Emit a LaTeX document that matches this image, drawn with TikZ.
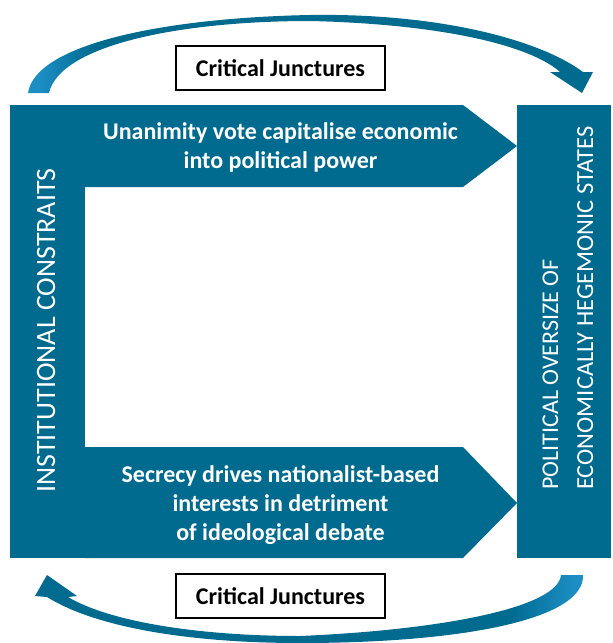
\documentclass[tikz,border=0pt]{standalone}
\usepackage{fontspec}
\setmainfont{Carlito}
\definecolor{mainblue}{RGB}{0,106,143}
\definecolor{lightblue}{RGB}{28,142,196}
\pgfdeclarehorizontalshading{topgrad}{100bp}{color(0bp)=(lightblue); color(26bp)=(lightblue); color(31bp)=(mainblue); color(100bp)=(mainblue)}
\pgfdeclarehorizontalshading{botgrad}{100bp}{color(0bp)=(mainblue); color(68bp)=(mainblue); color(74bp)=(lightblue); color(100bp)=(lightblue)}
\begin{document}
\begin{tikzpicture}[x=1pt,y=-1pt,
  blockfill/.style={fill=mainblue},
  boldtext/.style={text=white,font=\fontsize{24}{29}\selectfont\bfseries,align=center,inner sep=0pt},
  vtext/.style={text=white,rotate=90,inner sep=0pt,anchor=base west},
  cjbox/.style={draw=black,line width=1.2pt,fill=white,minimum width=209pt,minimum height=44pt,inner sep=0pt,font=\fontsize{24}{29}\selectfont\bfseries}]
\useasboundingbox (0,0) rectangle (613,643);

% blocks
\fill[blockfill] (10,105) rectangle (85,558);
\fill[blockfill] (85,105) -- (463,105) -- (517,146) -- (463,187) -- (85,187) -- cycle;
\fill[blockfill] (85,447) -- (463,447) -- (517,503) -- (463,558) -- (85,558) -- cycle;
\fill[blockfill] (517,105) rectangle (611,558);

% texts
\node[boldtext] (toptext) at (280.5,147.5) {Unanimity vote capitalise economic\\into political power};
\node[boldtext] (bottext) at (280.5,505) {Secrecy drives nationalist-based\\interests in detriment\\of ideological debate};
\node[vtext,anchor=base,font=\fontsize{28}{34}\selectfont] (lefttext) at (55,330.5) {INSTITUTIONAL CONSTRAITS};
\node[vtext,font=\fontsize{24}{30}\selectfont] (right1) at (558,490) {POLITICAL OVERSIZE OF};
\node[vtext,font=\fontsize{24.5}{30}\selectfont] (right2) at (593,490) {ECONOMICALLY HEGEMONIC STATES};

% critical junctures boxes
\node[cjbox] (cjtop) at (280.5,68) {Critical Junctures};
\node[cjbox] (cjbot) at (280.5,596) {Critical Junctures};

% top curved arrow
\shade[shading=topgrad] (28,93) .. controls (35,45) and (160,18) .. (310,15)
  .. controls (440,13) and (540,40) .. (583,72) -- (593,72) -- (582,93) -- (550,72) -- (560,72)
  .. controls (530,45) and (440,24) .. (310,21)
  .. controls (180,21) and (60,45) .. (49,93) -- cycle;

% bottom curved arrow
\shade[shading=botgrad] (583,575) -- (561,575) .. controls (558,608) and (440,630) .. (300,636)
  .. controls (200,636) and (110,622) .. (68,597) -- (77,596) -- (47,575) -- (35,596) -- (47,597)
  .. controls (100,630) and (200,643) .. (300,643)
  .. controls (460,643) and (585,620) .. (583,575) -- cycle;
\end{tikzpicture}
\end{document}
